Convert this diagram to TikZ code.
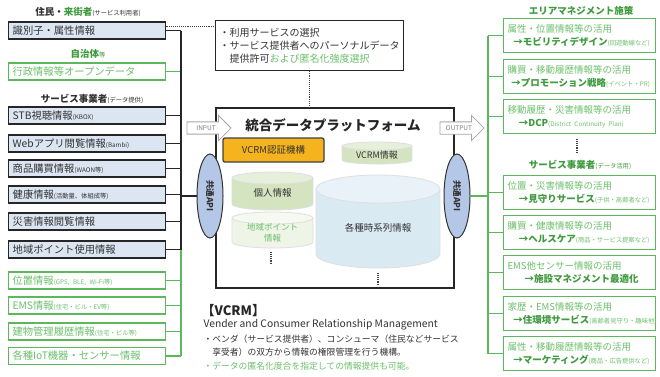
\documentclass[tikz,border=0pt]{standalone}
\usepackage{fontspec}
\setmainfont{Noto Sans CJK JP}
\usetikzlibrary{shapes.arrows,shapes.geometric}
\definecolor{lblue}{HTML}{DCE6F2}
\definecolor{gborder}{HTML}{5DB85D}
\definecolor{gtext}{HTML}{6CBF6C}
\definecolor{gdark}{HTML}{3D9B3D}
\definecolor{dtext}{HTML}{333333}
\definecolor{apiblue}{HTML}{B4C7E7}
\definecolor{vorange}{HTML}{F5B41E}
\definecolor{cgreen}{HTML}{D5E4C0}
\definecolor{cgreentop}{HTML}{E6EFDA}
\definecolor{cgreenlt}{HTML}{EEF4E6}
\definecolor{cgreenlttop}{HTML}{F5F9F0}
\definecolor{cblue}{HTML}{DAEAF3}
\definecolor{cbluetop}{HTML}{E8F2F8}
\newcommand\sm[1]{{\fontsize{6.3}{7}\selectfont #1}}
\newcommand\cyl[7]{%
  \pgfmathsetmacro\rx{(#2-#1)/2}%
  \pgfmathsetmacro\cx{(#1+#2)/2}%
  \fill[#6] (#1,#3) rectangle (#2,#4);
  \fill[#6] (\cx,#4) ellipse[x radius=\rx pt, y radius=#5 pt];
  \draw[cyledge] (#1,#3) -- (#1,#4) arc[start angle=180, end angle=360, x radius=\rx pt, y radius=#5 pt] -- (#2,#3);
  \filldraw[fill=#7, cyledge] (\cx,#3) ellipse[x radius=\rx pt, y radius=#5 pt];
}
\tikzset{
  lbox/.style={draw=black!85, line width=1.4pt, fill=lblue, minimum height=17pt,
    text width=149pt, inner xsep=4pt, inner ysep=0pt, align=left, anchor=west,
    font=\fontsize{10.3}{11}\selectfont, text=dtext},
  gbox/.style={lbox, draw=gborder, line width=1.1pt, fill=white, text=gtext},
  rbox/.style={draw=gborder, line width=1.1pt, fill=white, minimum height=34pt,
    text width=144pt, inner xsep=4pt, inner ysep=2pt, align=left, anchor=north west,
    font=\fontsize{9.5}{13.5}\selectfont, text=gtext},
  bk/.style={draw=black!85, line width=1.2pt},
  gr/.style={draw=gborder, line width=1.2pt},
  api/.style={ellipse, draw=black!80, line width=1pt, fill=apiblue, minimum width=26pt,
    minimum height=84pt, inner sep=0pt, font=\bfseries\fontsize{8.5}{9}\selectfont, text=dtext},
  blockarrow/.style={single arrow, draw=gray!70, line width=0.8pt, fill=white, minimum height=44pt,
    minimum width=25pt, single arrow head extend=4pt, inner sep=1pt,
    font=\fontsize{6.5}{7}\selectfont, text=gray},
  cyledge/.style={draw=gray!25, line width=0.8pt},
  dotline/.style={densely dotted, line width=1.1pt, draw=black!75},
  ttl/.style={font=\fontsize{9.5}{10}\selectfont, text=dtext},
  gttl/.style={font=\fontsize{9.5}{10}\selectfont, text=gdark},
  vtext/.style={anchor=west, font=\fontsize{8.8}{10}\selectfont, text=dtext},
}
\begin{document}
\begin{tikzpicture}[x=1pt,y=-1pt]
\fill[white] (0,0) rectangle (660,376);
\useasboundingbox (0,0) rectangle (660,376);

% ---------- left column ----------
\node[ttl] (t1) at (88,12) {\bfseries 住民・\textcolor{gdark}{来街者}\mdseries\sm{(サービス利用者)}};
\node[lbox] (b1) at (8,30.5) {識別子・属性情報};
\node[gttl] (t2) at (88,54) {\bfseries 自治体\mdseries\sm{等}};
\node[gbox] (g1) at (8,71.5) {行政情報等オープンデータ};
\node[ttl] (t3) at (92,99) {\bfseries サービス事業者\mdseries\sm{(データ提供)}};
\node[lbox] (b2) at (8,115.5) {STB視聴情報\sm{(KBOX)}};
\node[lbox] (b3) at (8,143.5) {Webアプリ閲覧情報\sm{(Bambi)}};
\node[lbox] (b4) at (8,168.5) {商品購買情報\sm{(WAON等)}};
\node[lbox] (b5) at (8,194.5) {健康情報\sm{(活動量、体組成等)}};
\node[lbox] (b6) at (8,221.5) {災害情報閲覧情報};
\node[lbox] (b7) at (8,249.5) {地域ポイント使用情報};
\node[gbox] (g2) at (8,280.5) {位置情報\sm{(GPS, BLE, Wi-Fi等)}};
\node[gbox] (g3) at (8,305.5) {EMS情報\sm{(住宅・ビル・EV等)}};
\node[gbox] (g4) at (8,331.5) {建物管理履歴情報\sm{(住宅・ビル等)}};
\node[gbox] (g5) at (8,356) {各種IoT機器・センサー情報};

\coordinate (lb) at (181,0);
\foreach \n in {b1,b2,b3,b4,b5,b6,b7} \draw[bk] (\n.east) -- (\n.east -| lb);
\foreach \n in {g1,g2,g3,g4,g5} \draw[gr] (\n.east) -- (\n.east -| lb);
\draw[bk] (b1.east -| lb) -- (b7.east -| lb);
\draw[gr] (b7.east -| lb) -- (g5.east -| lb);

% ---------- top selection box ----------
\node[draw=black!85, line width=1.2pt, anchor=north west, text width=180pt, inner xsep=4pt,
  inner ysep=3pt, align=left, minimum height=50pt, font=\fontsize{10}{12.8}\selectfont, text=dtext]
  (sel) at (215,20) {・利用サービスの選択\\・サービス提供者へのパーソナルデータ\\\hspace*{1em}提供許可\textcolor{gtext}{および匿名化強度選択}};
\draw[dotline] ([yshift=4pt]b1.east) -- ([yshift=4pt]b1.east -| sel.west);

% ---------- platform ----------
\node[draw=black!85, line width=1.8pt, minimum width=238pt, minimum height=180pt, anchor=north west, inner sep=0pt]
  (plat) at (215,107) {};
\draw[dotline] (sel.south) -- (sel.south |- plat.north);
\node[font=\bfseries\fontsize{13.5}{14}\selectfont, text=black!85] (ptitle) at (333,125) {統合データプラットフォーム};

\node[draw=black!75, line width=1.3pt, fill=vorange, rounded corners=2pt, minimum width=101pt,
  minimum height=24pt, font=\fontsize{9.5}{10}\selectfont, text=dtext] (auth) at (273.5,150) {VCRM認証機構};

\cyl{342}{412}{146}{160}{4}{cgreen}{cgreentop}
\node[font=\fontsize{9}{10}\selectfont, text=dtext] (vinfo) at (377,155) {VCRM情報};
\cyl{232}{313}{178}{204}{6}{cgreen}{cgreentop}
\node[font=\fontsize{9.5}{10}\selectfont, text=dtext] (kojin) at (272.5,193) {個人情報};
\cyl{232}{313}{218}{242}{6}{cgreenlt}{cgreenlttop}
\node[font=\fontsize{8.5}{11}\selectfont, text=gtext, align=center] (chiiki) at (272.5,233) {地域ポイント\\情報};
\cyl{316}{440}{189}{254}{14}{cblue}{cbluetop}
\node[font=\fontsize{9.5}{10}\selectfont, text=dtext] (jikei) at (378,228) {各種時系列情報};
\draw[dotline] (271,252) -- (271,263);
\draw[dotline] (378,273) -- (378,284);

\node[blockarrow] (inp) at (206,128) {INPUT};
\node[blockarrow] (outp) at (459,128) {OUTPUT};

\node[api] (apil) at (210,196) {\rotatebox{-90}{共通API}};
\node[api] (apir) at (457,196) {\rotatebox{-90}{共通API}};
\draw[bk] (apil.west -| lb) -- (apil.west);

% ---------- right column ----------
\node[gttl] (rt1) at (581,11) {\bfseries エリアマネジメント施策};
\node[rbox] (r1) at (503,18) {属性・位置情報等の活用\\\hspace*{0.6em}{\bfseries\color{gdark}→モビリティデザイン}\sm{(回遊動線など)}};
\node[rbox] (r2) at (503,59) {購買・移動履歴情報等の活用\\\hspace*{0.4em}{\bfseries\color{gdark}→プロモーション戦略}\sm{(イベント・PR)}};
\node[rbox] (r3) at (503,99) {移動履歴・災害情報等の活用\\\hspace*{1.2em}{\bfseries\color{gdark}→DCP}\sm{(District Continuity Plan)}};
\draw[dotline] (577,139) -- (577,152);
\node[gttl] (rt2) at (580,165) {\bfseries サービス事業者\mdseries\sm{(データ活用)}};
\node[rbox] (r4) at (503,175) {位置・災害情報等の活用\\\hspace*{1.2em}{\bfseries\color{gdark}→見守りサービス}\sm{(子供・高齢者など)}};
\node[rbox] (r5) at (503,215) {購買・健康情報等の活用\\\hspace*{1.2em}{\bfseries\color{gdark}→ヘルスケア}\sm{(商品・サービス提案など)}};
\node[rbox] (r6) at (503,255) {EMS他センサー情報の活用\\\hspace*{1.8em}{\bfseries\color{gdark}→施設マネジメント最適化}};
\node[rbox] (r7) at (503,296) {家歴・EMS情報等の活用\\\hspace*{0.6em}{\bfseries\color{gdark}→住環境サービス}\sm{(高齢者見守り・趣味他)}};
\node[rbox] (r8) at (503,336) {属性・移動履歴情報等の活用\\\hspace*{0.6em}{\bfseries\color{gdark}→マーケティング}\sm{(商品・広告提供など)}};

\coordinate (rb) at (488,0);
\foreach \n in {r1,r2,r3,r4,r5,r6,r7,r8} \draw[gr] (\n.west) -- (\n.west -| rb);
\draw[gr] (r1.west -| rb) -- (r8.west -| rb);
\draw[gr] (apir.east) -- (apir.east -| rb);

% ---------- VCRM note ----------
\node[anchor=west, font=\bfseries\fontsize{13}{13}\selectfont, text=black!85] (vt) at (198,311) {【VCRM】};
\node[vtext, font=\fontsize{10.3}{11}\selectfont] (v1) at (200,325) {Vender and Consumer Relationship Management};
\node[vtext] (v2) at (200,339) {・ベンダ（サービス提供者）、コンシューマ（住民などサービス};
\node[vtext] (v3) at (200,352.5) {\hspace*{1em}享受者）の双方から情報の権限管理を行う機構。};
\node[vtext, text=gtext] (v4) at (200,366.5) {・データの匿名化度合を指定しての情報提供も可能。};
\end{tikzpicture}
\end{document}
